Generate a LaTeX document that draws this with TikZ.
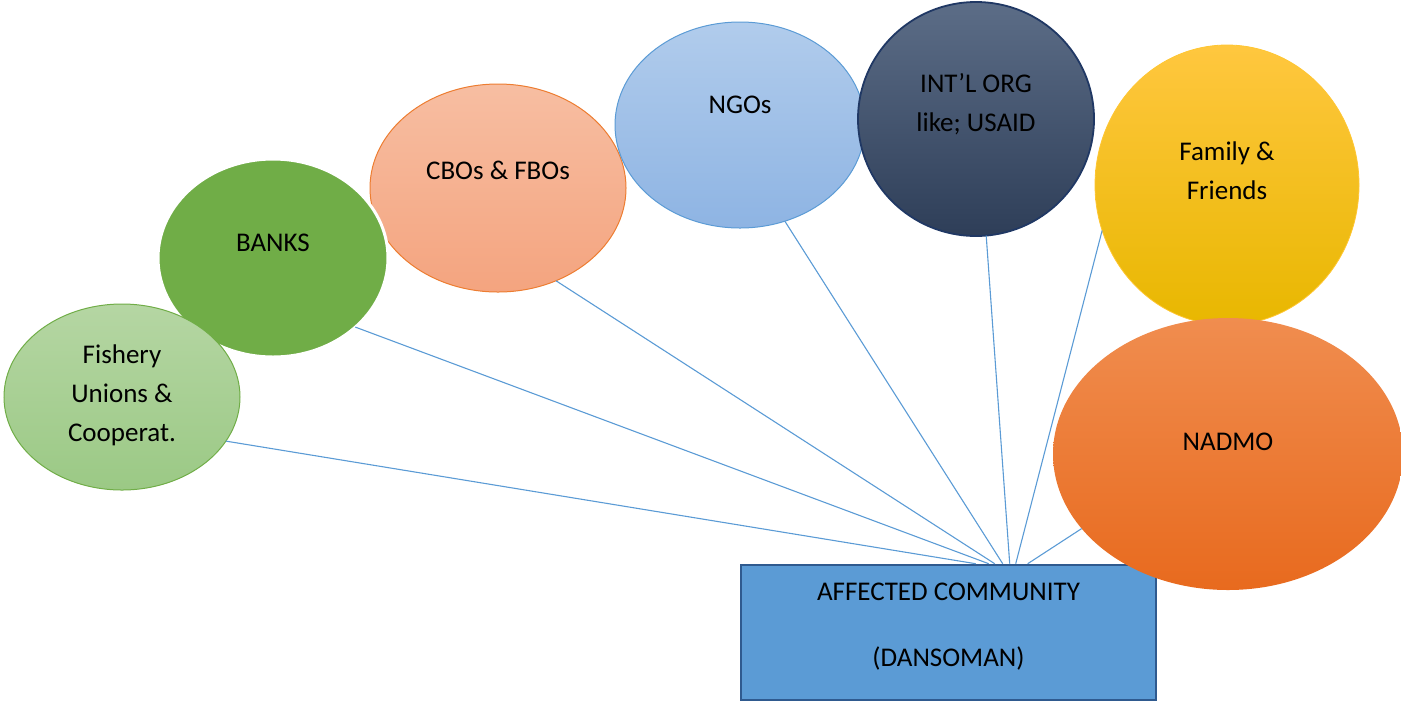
\documentclass[tikz,border=0pt]{standalone}
\usepackage{fontspec}
\setmainfont{Carlito}
\usetikzlibrary{shapes.geometric,calc}
\definecolor{lnblue}{HTML}{5B9BD5}
\definecolor{rectfill}{HTML}{5B9BD5}
\definecolor{rectdraw}{HTML}{2F5A8F}
\definecolor{fishtop}{HTML}{B5D6A3}
\definecolor{fishbot}{HTML}{9BC985}
\definecolor{fishdraw}{HTML}{70AD47}
\definecolor{bankfill}{HTML}{70AD47}
\definecolor{cbotop}{HTML}{F7BEA2}
\definecolor{cbobot}{HTML}{F4A47F}
\definecolor{cbodraw}{HTML}{ED7D31}
\definecolor{ngotop}{HTML}{B1CCEC}
\definecolor{ngobot}{HTML}{8EB4E3}
\definecolor{ngodraw}{HTML}{5B9BD5}
\definecolor{inttop}{HTML}{5C6D87}
\definecolor{intbot}{HTML}{2E3E58}
\definecolor{intdraw}{HTML}{203864}
\definecolor{famtop}{HTML}{FFC73F}
\definecolor{fammid}{HTML}{FFC000}
\definecolor{fambot}{HTML}{E8B700}
\definecolor{nadtop}{HTML}{F08D4F}
\definecolor{nadbot}{HTML}{E86A1E}
\tikzset{
  blob/.style={shape=ellipse, inner sep=0pt, outer sep=0pt},
  txt/.style={align=center, font=\fontsize{13.5}{19.5}\selectfont, text=black, inner sep=0pt},
  link/.style={draw=lnblue, line width=0.55pt},
}
\begin{document}
\begin{tikzpicture}[x=0.5pt,y=-0.5pt]
\useasboundingbox (0,0) rectangle (1401,703);
% ellipses
\node[blob, minimum width=128pt, minimum height=104pt, top color=cbotop, bottom color=cbobot, draw=cbodraw, line width=0.5pt] (cbo) at (498,188) {};
\node[blob, minimum width=115pt, minimum height=99pt, fill=bankfill, draw=white, line width=1.5pt] (banks) at (273,258) {};
\node[blob, minimum width=118pt, minimum height=93pt, top color=fishtop, bottom color=fishbot, draw=fishdraw, line width=0.5pt] (fish) at (122,397) {};
\node[blob, minimum width=125pt, minimum height=103pt, top color=ngotop, bottom color=ngobot, draw=ngodraw, line width=0.5pt] (ngo) at (740,125) {};
\node[blob, minimum width=118pt, minimum height=117pt, top color=inttop, bottom color=intbot, draw=intdraw, line width=0.9pt] (intl) at (976,119) {};
\node[blob, minimum width=132pt, minimum height=140pt, top color=famtop, middle color=fammid, bottom color=fambot, draw=famtop!80!fammid, line width=0.4pt] (fam) at (1227,185) {};
% community box
\node[draw=rectdraw, fill=rectfill, line width=1.3pt, minimum width=207.5pt, minimum height=67.5pt, inner sep=0pt] (comm) at (948.5,632.5) {};
\node[blob, minimum width=175pt, minimum height=136pt, top color=nadtop, bottom color=nadbot] (nadmo) at (1228,454) {};
% connectors
\coordinate (e1) at ($(comm.north west)+(236,0)$);
\coordinate (e2) at ($(comm.north west)+(249,0)$);
\coordinate (e3) at ($(comm.north west)+(255,0)$);
\coordinate (e4) at ($(comm.north west)+(263,0)$);
\coordinate (e5) at ($(comm.north west)+(270,0)$);
\coordinate (e6) at ($(comm.north west)+(276,0)$);
\coordinate (e7) at ($(comm.north west)+(288,0)$);
\draw[link] (fish.-23) -- (e1);
\draw[link] (banks.-40) -- (e2);
\draw[link] (cbo.-58) -- (e3);
\draw[link] (ngo.-65) -- (e4);
\draw[link] (intl.-85) -- (e5);
\draw[link] (fam.200) -- (e6);
\draw[link] (nadmo.207) -- (e7);
% texts
\node[txt] (fish-t) at ($(fish)+(0,-2)$) {Fishery\\Unions \&\\Cooperat.};
\node[txt] (banks-t) at ($(banks)+(0,-15)$) {BANKS};
\node[txt] (cbo-t) at ($(cbo)+(0,-18)$) {CBOs \& FBOs};
\node[txt] (ngo-t) at ($(ngo)+(0,-20)$) {NGOs};
\node[txt] (intl-t) at ($(intl)+(0,-15)$) {INT’L ORG\\like; USAID};
\node[txt] (fam-t) at ($(fam)+(0,-14)$) {Family \&\\Friends};
\node[txt] (nadmo-t) at ($(nadmo)+(0,-12)$) {NADMO};
\node[txt, font=\fontsize{13.5}{33}\selectfont] (comm-t) at ($(comm)+(0,-6)$) {AFFECTED COMMUNITY\\(DANSOMAN)};
\end{tikzpicture}
\end{document}
